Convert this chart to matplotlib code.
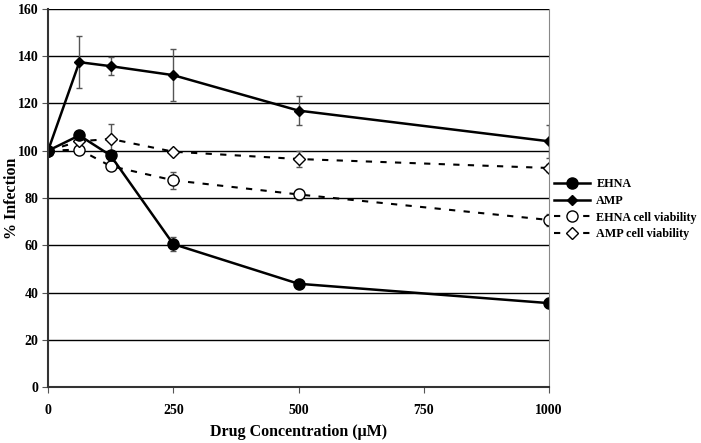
import matplotlib
matplotlib.use("Agg")
import matplotlib.pyplot as plt
from matplotlib.lines import Line2D

plt.rcParams['font.family'] = ['Liberation Serif', 'DejaVu Serif']
plt.rcParams['font.weight'] = 'bold'

# drug concentration (uM)
conc = [0, 62.5, 125, 250, 500, 1000]

ehna = [100, 106.5, 98, 60.5, 43.7, 35.5]
ehna_err = [0, 2, 1.5, 3, 1, 2]

amp = [100, 137.5, 135.8, 132, 117, 104]
amp_err = [0, 11, 3.8, 11, 6, 7]

ehna_viab = [100, 100.5, 93.5, 87.5, 81.5, 70.7]
ehna_viab_err = [0, 1, 1, 3.5, 2.5, 2.5]

amp_viab = [100, 104, 105, 99.6, 96.5, 92.7]
amp_viab_err = [0, 1.5, 6.5, 0.5, 3.5, 1.5]

fig = plt.figure(figsize=(7.01, 4.43), dpi=100)
ax = fig.add_axes([48 / 701, 1 - 387 / 443, (549 - 48) / 701, (387 - 9) / 443])

ax.set_xlim(0, 1000)
ax.set_ylim(0, 160)
ax.set_yticks(range(0, 161, 20))
ax.set_xticks([0, 250, 500, 750, 1000])
ax.yaxis.grid(True, color='black', lw=1)
ax.set_axisbelow(True)

err_kw = dict(ecolor='#555555', elinewidth=1, capsize=2.5, capthick=1)
dash = (0, (3, 4))

ax.errorbar(conc, ehna_viab, yerr=ehna_viab_err, color='black', ls=dash, lw=1.5,
            marker='o', ms=8, mfc='white', mec='black', **err_kw)
ax.errorbar(conc, amp_viab, yerr=amp_viab_err, color='black', ls=dash, lw=1.5,
            marker='D', ms=6, mfc='white', mec='black', **err_kw)
ax.errorbar(conc, ehna, yerr=ehna_err, color='black', lw=1.8,
            marker='o', ms=8, mfc='black', mec='black', **err_kw)
ax.errorbar(conc, amp, yerr=amp_err, color='black', lw=1.8,
            marker='D', ms=5.5, mfc='black', mec='black', **err_kw)

ax.spines['top'].set_visible(False)
ax.spines['right'].set_color('#888888')
ax.spines['left'].set_color('#333333')
ax.spines['bottom'].set_color('#333333')
ax.spines['left'].set_linewidth(1.5)
ax.spines['bottom'].set_linewidth(1.5)

ax.tick_params(axis='both', labelsize=10, direction='out', length=4, color='#555555')
ax.tick_params(axis='x', pad=8)
ax.tick_params(axis='y', pad=3)
for lbl in ax.get_xticklabels() + ax.get_yticklabels():
    lbl.set_fontweight('bold')

ax.set_xlabel('Drug Concentration (\u03bcM)', fontsize=11.5, fontweight='bold', labelpad=5)
ax.set_ylabel('% Infection', fontsize=11.5, fontweight='bold')
ax.yaxis.set_label_coords(-0.056, 0.5)

handles = [
    Line2D([], [], color='black', lw=1.8, marker='o', ms=8, mfc='black', mec='black'),
    Line2D([], [], color='black', lw=1.8, marker='D', ms=5.5, mfc='black', mec='black'),
    Line2D([], [], color='black', lw=1.5, ls=dash, marker='o', ms=8, mfc='white', mec='black'),
    Line2D([], [], color='black', lw=1.5, ls=dash, marker='D', ms=6, mfc='white', mec='black'),
]
labels = ['EHNA', 'AMP', 'EHNA cell viability', 'AMP cell viability']
leg = fig.legend(handles, labels, loc='upper left', bbox_to_anchor=(554 / 701, 1 - 178 / 443),
                 frameon=False, fontsize=8.7, handlelength=3.0, labelspacing=0.4,
                 handletextpad=0.5, borderaxespad=0, borderpad=0)
for t in leg.get_texts():
    t.set_fontweight('bold')

fig.savefig('out.png', dpi=100)
